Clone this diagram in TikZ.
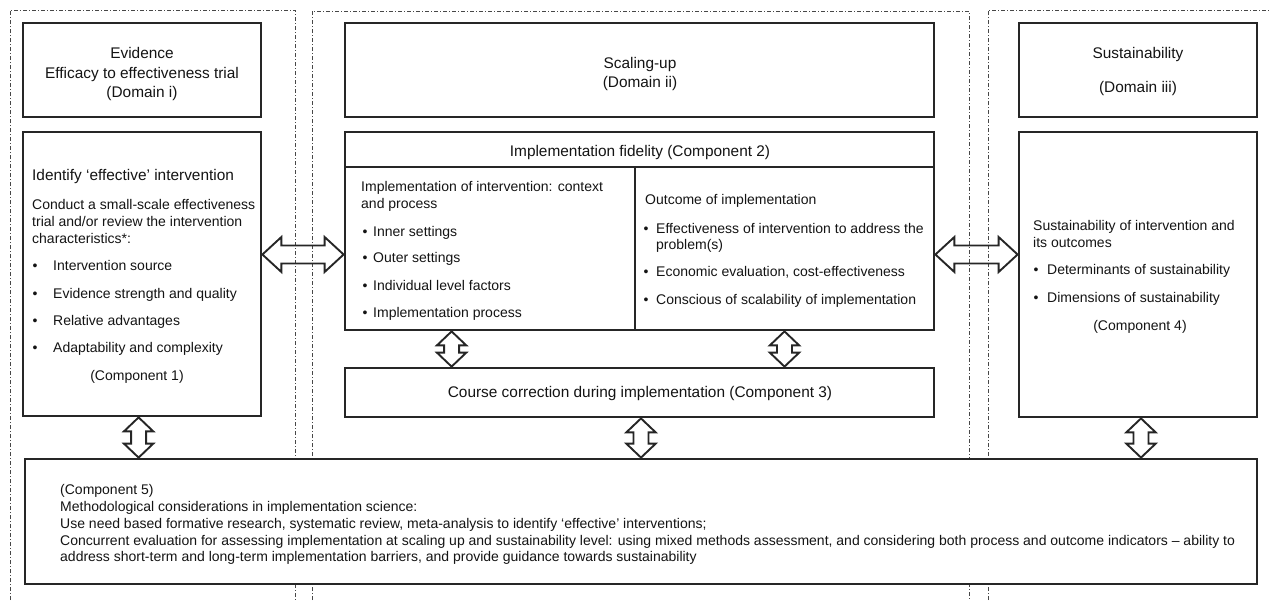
\documentclass[tikz,border=0pt]{standalone}
\usepackage{fontspec}
\setmainfont{Liberation Sans}
\usetikzlibrary{calc}
\newcommand\HdrFont{\fontsize{15.4}{18}\selectfont}
\newcommand\BodyFont{\fontsize{14}{16.7}\selectfont}
\newcommand\DArrowV[2]{\draw[dblarr] let \p1=(#1), \p2=(#2) in
  (\x1,\y1) -- (\x1+14.7pt,\y1-14pt) -- (\x1+7.5pt,\y1-14pt) -- (\x1+7.5pt,\y2+14pt) -- (\x1+14.7pt,\y2+14pt) -- (\x1,\y2)
  -- (\x1-14.7pt,\y2+14pt) -- (\x1-7.5pt,\y2+14pt) -- (\x1-7.5pt,\y1-14pt) -- (\x1-14.7pt,\y1-14pt) -- cycle;}
\newcommand\DArrowH[2]{\draw[dblarr] let \p1=(#1), \p2=(#2) in
  (\x1,\y1) -- (\x1+19pt,\y1+17.5pt) -- (\x1+19pt,\y1+9pt) -- (\x2-19pt,\y1+9pt) -- (\x2-19pt,\y1+17.5pt) -- (\x2,\y1)
  -- (\x2-19pt,\y1-17.5pt) -- (\x2-19pt,\y1-9pt) -- (\x1+19pt,\y1-9pt) -- (\x1+19pt,\y1-17.5pt) -- cycle;}
\tikzset{
  dframe/.style={draw=black!72, line width=1pt, dash pattern=on 4pt off 2pt on 1pt off 2pt},
  box/.style={draw=black!85, line width=2.8pt, fill=white, inner sep=0pt, rectangle},
  dblarr/.style={draw=black!85, line width=1.9pt, line join=miter},
  lt/.style={inner sep=0pt, anchor=west, text height=10pt, text depth=0pt, font=\BodyFont, text=black!92},
  ct/.style={lt, anchor=center},
  ht/.style={inner sep=0pt, anchor=center, text height=11pt, text depth=0pt, font=\HdrFont, text=black!92},
  hlt/.style={ht, anchor=west},
}
\begin{document}
\begin{tikzpicture}[x=1pt,y=-1pt]
\useasboundingbox (0,0) rectangle (1271,600);
% domain frames
\draw[dframe] (10,600) -- (10,10) -- (295,10) -- (295,600);
\draw[dframe] (312,600) -- (312,11) -- (969,11) -- (969,600);
\draw[dframe] (988,600) -- (988,10) -- (1271,10);
% boxes
\node[box, minimum width=238, minimum height=94] (ev) at (142,70) {};
\node[box, minimum width=238, minimum height=284] (c1) at (142,274) {};
\node[box, minimum width=589, minimum height=94] (su) at (639.5,70) {};
\node[box, minimum width=589, minimum height=35] (fid) at (639.5,149.5) {};
\node[box, minimum width=290, minimum height=163] (cellL) at (490,248.5) {};
\node[box, minimum width=299, minimum height=163] (cellR) at (784.5,248.5) {};
\node[box, minimum width=589, minimum height=49] (cc) at (639.5,392.5) {};
\node[box, minimum width=238, minimum height=94] (sus) at (1138,70) {};
\node[box, minimum width=238, minimum height=285] (c4) at (1138,274.5) {};
\node[box, minimum width=1232, minimum height=125] (bot) at (641,521.5) {};
% texts: domain i
\node[ht] (ev1) at (142,53) {Evidence};
\node[ht] (ev2) at (142,73) {Efficacy to effectiveness trial};
\node[ht] (ev3) at (142,92) {(Domain i)};
\node[hlt] (c1a) at (32,175) {Identify ‘effective’ intervention};
\node[lt] (c1b) at (32,204) {Conduct a small-scale effectiveness};
\node[lt] (c1c) at (32,221) {trial and/or review the intervention};
\node[lt] (c1d) at (32,238) {characteristics*:};
\node[lt] (c1bu1) at (32.5,265) {•};
\node[lt] (c1e) at (53,265) {Intervention source};
\node[lt] (c1bu2) at (32.5,293) {•};
\node[lt] (c1f) at (53,293) {Evidence strength and quality};
\node[lt] (c1bu3) at (32.5,320) {•};
\node[lt] (c1g) at (53,320) {Relative advantages};
\node[lt] (c1bu4) at (32.5,347) {•};
\node[lt] (c1h) at (53,347) {Adaptability and complexity};
\node[ct] (c1i) at (137,375) {(Component 1)};
% domain ii
\node[ht] (su1) at (640,63) {Scaling-up};
\node[ht] (su2) at (640,82) {(Domain ii)};
\node[ht] (fidt) at (640,151) {Implementation fidelity (Component 2)};
\node[lt] (la) at (361,186) {Implementation of intervention: context};
\node[lt] (lb) at (361,203) {and process};
\node[lt] (lbu1) at (362.5,231) {•};
\node[lt] (lc) at (373,231) {Inner settings};
\node[lt] (lbu2) at (362.5,257) {•};
\node[lt] (ld) at (373,257) {Outer settings};
\node[lt] (lbu3) at (362.5,285) {•};
\node[lt] (le) at (373,285) {Individual level factors};
\node[lt] (lbu4) at (362.5,312) {•};
\node[lt] (lf) at (373,312) {Implementation process};
\node[lt] (ra) at (645,199) {Outcome of implementation};
\node[lt] (rbu1) at (643.5,228) {•};
\node[lt] (rb) at (656,228) {Effectiveness of intervention to address the};
\node[lt] (rc) at (656,244) {problem(s)};
\node[lt] (rbu2) at (643.5,271) {•};
\node[lt] (rd) at (656,271) {Economic evaluation, cost-effectiveness};
\node[lt] (rbu3) at (643.5,299) {•};
\node[lt] (re) at (656,299) {Conscious of scalability of implementation};
\node[ht] (cct) at (640,392) {Course correction during implementation (Component 3)};
% domain iii
\node[ht] (sus1) at (1138,53) {Sustainability};
\node[ht] (sus2) at (1138,87) {(Domain iii)};
\node[lt] (c4a) at (1033,225) {Sustainability of intervention and};
\node[lt] (c4b) at (1033,242) {its outcomes};
\node[lt] (c4bu1) at (1033.5,269) {•};
\node[lt] (c4c) at (1047,269) {Determinants of sustainability};
\node[lt] (c4bu2) at (1033.5,297) {•};
\node[lt] (c4d) at (1047,297) {Dimensions of sustainability};
\node[ct] (c4e) at (1140,325) {(Component 4)};
% component 5
\node[lt] (b1) at (60,489.5) {(Component 5)};
\node[lt] (b2) at (60,506.5) {Methodological considerations in implementation science:};
\node[lt] (b3) at (60,523) {Use need based formative research, systematic review, meta-analysis to identify ‘effective’ interventions;};
\node[lt] (b4) at (60,540) {Concurrent evaluation for assessing implementation at scaling up and sustainability level: using mixed methods assessment, and considering both process and outcome indicators – ability to};
\node[lt] (b5) at (60,556.5) {address short-term and long-term implementation barriers, and provide guidance towards sustainability};
% arrow end points
\coordinate (a1t) at ($(c1.south west)+(117,0)$);
\coordinate (a1b) at (a1t |- bot.north);
\coordinate (a2t) at ($(cellL.south west)+(108,0)$);
\coordinate (a2b) at (a2t |- cc.north);
\coordinate (a3t) at (cellR.south);
\coordinate (a3b) at (a3t |- cc.north);
\coordinate (a4t) at ($(cc.south)+(1.5,0)$);
\coordinate (a4b) at (a4t |- bot.north);
\coordinate (a5t) at ($(c4.south)+(3,0)$);
\coordinate (a5b) at (a5t |- bot.north);
\coordinate (h1l) at ($(c1.east)+(0,-19.5)$);
\coordinate (h1r) at (h1l -| cellL.west);
\coordinate (h2l) at (h1l -| cellR.east);
\coordinate (h2r) at (h1l -| c4.west);
\DArrowV{a1t}{a1b}
\DArrowV{a2t}{a2b}
\DArrowV{a3t}{a3b}
\DArrowV{a4t}{a4b}
\DArrowV{a5t}{a5b}
\DArrowH{h1l}{h1r}
\DArrowH{h2l}{h2r}
\end{tikzpicture}
\end{document}
